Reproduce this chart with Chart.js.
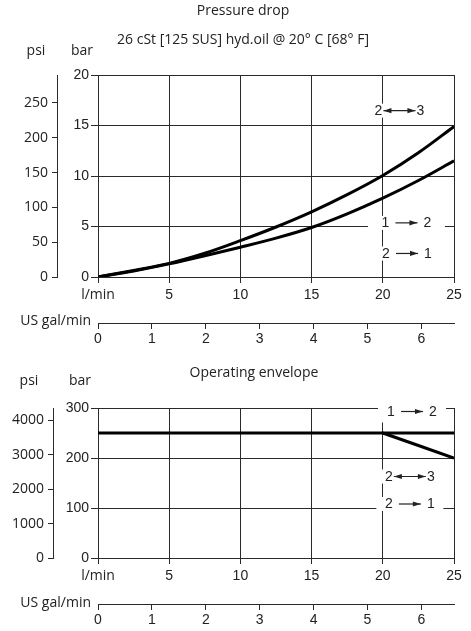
<!DOCTYPE html>
<html><head><meta charset="utf-8">
<script src="https://cdn.jsdelivr.net/npm/chart.js@4/dist/chart.umd.min.js"></script>
<style>
html,body{margin:0;padding:0;background:#fff;width:471px;height:631px;overflow:hidden}
canvas{position:absolute;left:0}
#c1{top:0}
#c2{top:350px}
</style></head>
<body>
<canvas id="c1" width="471" height="360"></canvas>
<canvas id="c2" width="471" height="281"></canvas>
<script>
// ---- data ----
const flowLpm   = [0, 2.5, 5, 7.5, 10, 12.5, 15, 17.5, 20, 22.5, 25];
const dp2to3    = [0, 0.65, 1.35, 2.35, 3.6, 4.95, 6.45, 8.15, 10.05, 12.3, 14.9];
const dp1to2    = [0, 0.6, 1.3, 2.1, 2.95, 3.85, 4.9, 6.25, 7.8, 9.55, 11.5];

const envFlow     = [0, 25];
const envPressure = [250, 250];
const derateFlow     = [20, 25];
const deratePressure = [250, 200];

const lpmTicks  = [0, 5, 10, 15, 20, 25];
const galTicks  = [0, 1, 2, 3, 4, 5, 6];
const barTicksTop = [0, 5, 10, 15, 20];
const psiTicksTop = [0, 50, 100, 150, 200, 250];
const barTicksBot = [0, 100, 200, 300];
const psiTicksBot = [0, 1000, 2000, 3000, 4000];

const LPM_PER_GAL = 3.785;
const PSI_PER_BAR = 14.5038;
const FLOW_MAX = 25;

const NARROW = '"Liberation Sans Narrow", "Arial Narrow", sans-serif';
const SANS = '"Open Sans", "Noto Sans", sans-serif';
const TXT = '#222';
const GRID = '#2a2a2a';

function pts(xs, ys){ return xs.map((x,i)=>({x:x, y:ys[i]})); }
function fixTicks(arr){ return s => { s.ticks = arr.map(v=>({value:v})); }; }

function arrowHead(ctx, x, y, dir){
  ctx.beginPath();
  ctx.moveTo(x, y);
  ctx.lineTo(x - dir*8, y - 2.6);
  ctx.lineTo(x - dir*8, y + 2.6);
  ctx.closePath(); ctx.fill();
}

const tagPlugin = {
  id: 'tags',
  afterDatasetsDraw(chart, args, opts){
    const ctx = chart.ctx, xs = chart.scales.x, ys = chart.scales.y;
    (opts.items||[]).forEach(t=>{
      const cx = xs.getPixelForValue(t.x), cy = ys.getPixelForValue(t.y);
      ctx.save();
      ctx.fillStyle = '#fff';
      ctx.fillRect(cx - t.w/2, cy - t.h/2, t.w, t.h);
      ctx.fillStyle = TXT; ctx.strokeStyle = TXT;
      ctx.font = '14px ' + NARROW;
      ctx.textAlign = 'center'; ctx.textBaseline = 'middle';
      ctx.fillText(t.a, cx - 21, cy + 0.5);
      ctx.fillText(t.b, cx + 21, cy + 0.5);
      const half = t.both ? 16 : 11;
      ctx.lineWidth = 1.2;
      ctx.beginPath(); ctx.moveTo(cx - half, cy); ctx.lineTo(cx + half, cy); ctx.stroke();
      arrowHead(ctx, cx + half, cy, 1);
      if (t.both) arrowHead(ctx, cx - half, cy, -1);
      ctx.restore();
    });
  }
};

const textPlugin = {
  id: 'texts',
  afterDraw(chart, args, opts){
    const ctx = chart.ctx;
    (opts.items||[]).forEach(t=>{
      ctx.save();
      ctx.font = (t.size||14) + 'px ' + SANS;
      ctx.fillStyle = TXT;
      ctx.textAlign = t.align || 'center';
      ctx.textBaseline = 'middle';
      ctx.fillText(t.text, t.x, t.y);
      ctx.restore();
    });
  }
};

function lineDs(data){
  return {data:data, borderColor:'#000', borderWidth:3, pointRadius:0,
          fill:false, cubicInterpolationMode:'monotone', tension:0.4};
}

function makeChart(id, cfg){
  const xScale = {
    type:'linear', position:'bottom', min:0, max:FLOW_MAX, weight:0,
    afterBuildTicks: fixTicks(lpmTicks),
    afterFit: s => { s.height = 46; },
    grid:{color:GRID, lineWidth:1, tickLength:6, drawTicks:true},
    border:{display:true, color:GRID, width:1},
    ticks:{color:TXT, padding:4, maxRotation:0, autoSkip:false,
      font: c => (c.tick && c.tick.value===0) ? {family:SANS, size:14} : {family:NARROW, size:14},
      callback: v => v===0 ? 'l/min' : String(v)}
  };
  const galScale = {
    type:'linear', position:'bottom', min:0, max:FLOW_MAX/LPM_PER_GAL, weight:1,
    afterBuildTicks: fixTicks(galTicks),
    afterFit: s => { s.height = 30; },
    grid:{drawOnChartArea:false, color:GRID, tickLength:6},
    border:{display:true, color:GRID, width:1},
    ticks:{color:TXT, padding:2, maxRotation:0, autoSkip:false, font:{family:NARROW, size:14},
      callback: v => String(v)}
  };
  const yScale = {
    type:'linear', position:'left', min:0, max:cfg.barMax, weight:0,
    afterBuildTicks: fixTicks(cfg.barTicks),
    afterFit: s => { s.width = cfg.barW; },
    grid:{color:GRID, lineWidth:1, tickLength:7},
    border:{display:true, color:GRID, width:1},
    ticks:{color:TXT, padding:2, autoSkip:false, font:{family:NARROW, size:14},
      callback: v => String(v)}
  };
  const psiScale = {
    type:'linear', position:'left', min:0, max:cfg.barMax*PSI_PER_BAR, weight:1,
    afterBuildTicks: fixTicks(cfg.psiTicks),
    afterFit: s => { s.width = cfg.psiW; },
    grid:{drawOnChartArea:false, color:GRID, tickLength:5},
    border:{display:true, color:GRID, width:1},
    ticks:{color:TXT, padding:4, autoSkip:false, font:{family:SANS, size:14},
      callback: v => String(v)}
  };
  return new Chart(document.getElementById(id), {
    type:'line',
    data:{datasets: cfg.datasets},
    options:{
      responsive:false, animation:false, devicePixelRatio:1,
      layout:{padding:{left:0, right:17, top:cfg.top, bottom:cfg.bottom}},
      plugins:{legend:{display:false}, tooltip:{enabled:false},
        tags:{items:cfg.tags}, texts:{items:cfg.texts}},
      scales:{x:xScale, gal:galScale, y:yScale, psi:psiScale}
    },
    plugins:[tagPlugin, textPlugin]
  });
}

makeChart('c1', {
  barMax:20, barTicks:barTicksTop, psiTicks:psiTicksTop, barW:41, psiW:57,
  top:75, bottom:7,
  datasets:[lineDs(pts(flowLpm, dp2to3)), lineDs(pts(flowLpm, dp1to2))],
  tags:[
    {x:21.17, y:16.47, w:56, h:14, a:'2', b:'3', both:true},
    {x:21.66, y:5.36, w:77, h:14, a:'1', b:'2'},
    {x:21.7,  y:2.33, w:70, h:14, a:'2', b:'1'}
  ],
  texts:[
    {text:'Pressure drop', x:243, y:11},
    {text:'26 cSt [125 SUS] hyd.oil @ 20° C [68° F]', x:243, y:40},
    {text:'psi', x:36, y:51},
    {text:'bar', x:82, y:51},
    {text:'US gal/min', x:91, y:321, align:'right'}
  ]
});

makeChart('c2', {
  barMax:300, barTicks:barTicksBot, psiTicks:psiTicksBot, barW:45, psiW:53,
  top:58, bottom:-3,
  datasets:[
    Object.assign(lineDs(pts(envFlow, envPressure)), {tension:0}),
    Object.assign(lineDs(pts(derateFlow, deratePressure)), {tension:0})
  ],
  tags:[
    {x:22.05, y:293, w:68, h:22, a:'1', b:'2'},
    {x:21.9,  y:163, w:58, h:14, a:'2', b:'3', both:true},
    {x:21.9,  y:108, w:67, h:14, a:'2', b:'1'}
  ],
  texts:[
    {text:'Operating envelope', x:254, y:23},
    {text:'psi', x:29, y:31},
    {text:'bar', x:80, y:31},
    {text:'US gal/min', x:91, y:253, align:'right'}
  ]
});
</script>
</body></html>
